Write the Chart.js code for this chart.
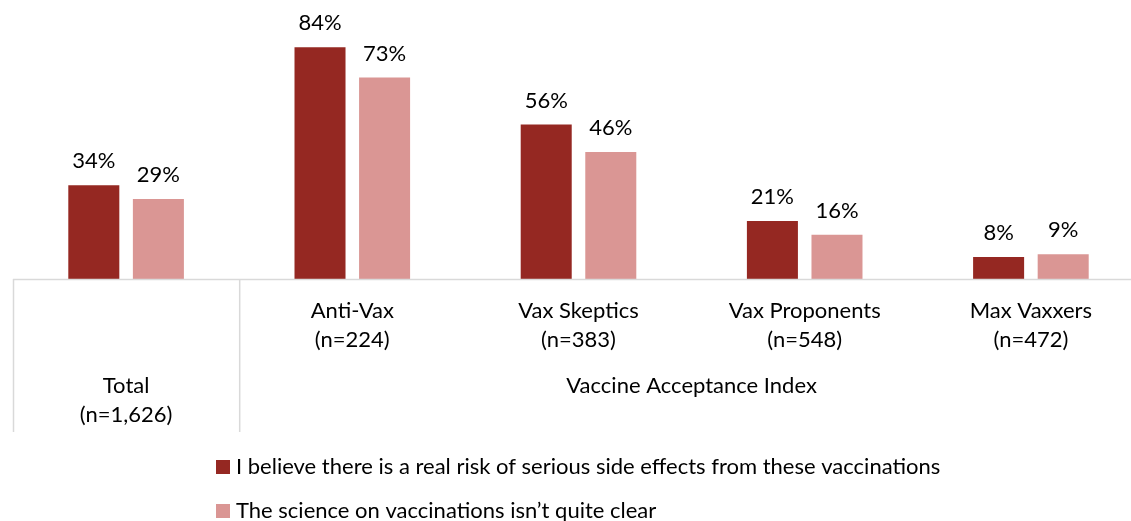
<!DOCTYPE html>
<html>
<head>
<meta charset="utf-8">
<script src="https://cdn.jsdelivr.net/npm/chart.js@4/dist/chart.umd.min.js"></script>
<style>
  html, body { margin: 0; padding: 0; background: #fff; overflow: hidden; }
  #wrap { width: 1131px; height: 521px; overflow: hidden; }
</style>
</head>
<body>
<div id="wrap"><canvas id="chart" width="1144" height="521"></canvas></div>
<script>
// categories (two-line tick labels) and the group label row
const categories = ["Total", "Anti-Vax", "Vax Skeptics", "Vax Proponents", "Max Vaxxers"];
const sampleSizes = ["(n=1,626)", "(n=224)", "(n=383)", "(n=548)", "(n=472)"];
const groupLabel = "Vaccine Acceptance Index";

const seriesNames = [
    "I believe there is a real risk of serious side effects from these vaccinations",
    "The science on vaccinations isn\u2019t quite clear"
];
const sideEffects = [34, 84, 56, 21, 8];
const scienceUnclear = [29, 73, 46, 16, 9];

const DARK = "#952822";
const LIGHT = "#da9694";
const FONT = "Lato, 'Open Sans', sans-serif";

// bar value labels, axis lines, category labels, legend
const decorPlugin = {
    id: "decor",
    afterDatasetsDraw(chart) {
        const ctx = chart.ctx;
        const area = chart.chartArea;
        const x = chart.scales.x;
        ctx.save();
        ctx.fillStyle = "#000";
        ctx.font = "22px " + FONT;
        ctx.textAlign = "center";
        ctx.textBaseline = "middle";
        chart.data.datasets.forEach((ds, i) => {
            chart.getDatasetMeta(i).data.forEach((bar, j) => {
                ctx.fillText(ds.data[j] + "%", bar.x, bar.y - 24);
            });
        });

        // axis line + separators
        const bottom = area.bottom;
        const step = (area.right - area.left) / categories.length;
        const sep = area.left + step;
        ctx.strokeStyle = "#d9d9d9";
        ctx.lineWidth = 1.5;
        ctx.beginPath();
        ctx.moveTo(area.left, bottom + 0.5);
        ctx.lineTo(area.right, bottom + 0.5);
        ctx.moveTo(area.left + 0.5, bottom);
        ctx.lineTo(area.left + 0.5, bottom + 153);
        ctx.moveTo(sep + 0.5, bottom);
        ctx.lineTo(sep + 0.5, bottom + 153);
        ctx.stroke();

        // category labels
        categories.forEach((c, i) => {
            const cx = x.getPixelForValue(i);
            const y1 = i === 0 ? bottom + 107 : bottom + 32;
            ctx.fillText(c, cx, y1);
            ctx.fillText(sampleSizes[i], cx, y1 + 29);
        });
        ctx.fillText(groupLabel, (sep + area.right) / 2, bottom + 107);

        // legend
        ctx.textAlign = "left";
        chart.data.datasets.forEach((ds, i) => {
            const ly = 467 + i * 44;
            ctx.fillStyle = ds.backgroundColor;
            ctx.fillRect(216, ly - 7, 14, 14);
            ctx.fillStyle = "#000";
            ctx.fillText(ds.label, 236, ly);
        });
        ctx.restore();
    }
};

new Chart(document.getElementById("chart"), {
    type: "bar",
    data: {
        labels: categories,
        datasets: [
            { label: seriesNames[0], data: sideEffects, backgroundColor: DARK },
            { label: seriesNames[1], data: scienceUnclear, backgroundColor: LIGHT }
        ]
    },
    options: {
        responsive: false,
        animation: false,
        categoryPercentage: 0.571,
        barPercentage: 0.79,
        layout: { padding: { left: 13, right: 0, top: 3, bottom: 242 } },
        scales: {
            x: { display: false, grid: { display: false } },
            y: { display: false, min: 0, max: 100, grid: { display: false } }
        },
        plugins: {
            legend: { display: false },
            tooltip: { enabled: false }
        }
    },
    plugins: [decorPlugin]
});
</script>
</body>
</html>
